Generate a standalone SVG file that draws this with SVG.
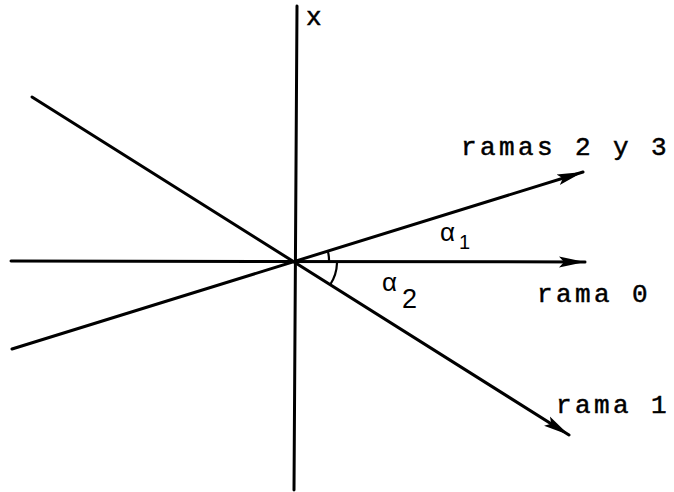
<svg xmlns="http://www.w3.org/2000/svg" width="674" height="492" viewBox="0 0 674 492">
<style>
.ln{stroke:#000;stroke-width:3;fill:none;stroke-linecap:round}
.arc{stroke:#000;stroke-width:2.2;fill:none}
.lbl{font-family:"Liberation Mono","Courier New",monospace;font-size:26px;fill:#000;stroke:#000;stroke-width:0.5;letter-spacing:3.4px}
.gr{font-family:"Liberation Sans",Arial,sans-serif;font-size:26px;fill:#000}
.sub{font-family:"Liberation Sans",Arial,sans-serif;font-size:20px;fill:#000}
.sub2{font-family:"Liberation Sans",Arial,sans-serif;font-size:27px;fill:#000}
</style>
<defs>
<marker id="ah" markerUnits="userSpaceOnUse" markerWidth="30" markerHeight="16" refX="26" refY="8" orient="auto">
<path d="M0,2.5 L26,8 L0,13.5 L5,8 Z" fill="#000"/>
</marker>
</defs>
<rect width="674" height="492" fill="#fff"/>
<g id="connectors">
<line class="ln" x1="297" y1="6" x2="294" y2="490"/>
<line class="ln" x1="11" y1="261" x2="585" y2="262" marker-end="url(#ah)"/>
<line class="ln" x1="12" y1="349" x2="583" y2="172" marker-end="url(#ah)"/>
<line class="ln" x1="32" y1="97" x2="569" y2="435" marker-end="url(#ah)"/>
</g>
<g id="angle-a1">
<path class="arc" d="M329,262 A34,34 0 0 0 328,252"/>
<text class="gr" x="440" y="241">α</text>
<text class="sub" x="459" y="249">1</text>
</g>
<g id="angle-a2">
<path class="arc" d="M337,263 A42,42 0 0 1 330,285"/>
<text class="gr" x="382" y="291">α</text>
<text class="sub2" x="402" y="308">2</text>
</g>
<g id="label-x"><text class="lbl" x="306" y="25">x</text></g>
<g id="label-ramas23"><text class="lbl" x="461" y="155">ramas 2 y 3</text></g>
<g id="label-rama0"><text class="lbl" x="537" y="302">rama 0</text></g>
<g id="label-rama1"><text class="lbl" x="556" y="413">rama 1</text></g>
</svg>
